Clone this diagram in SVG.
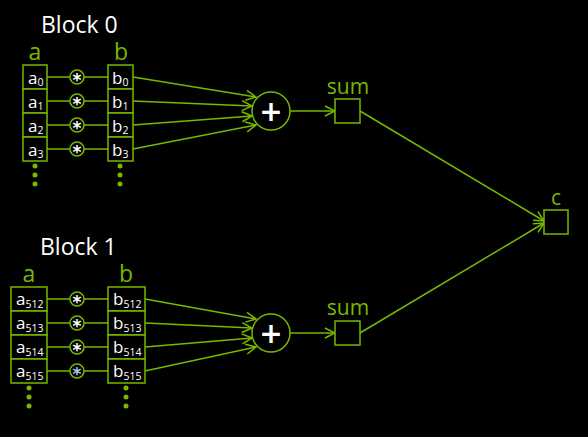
<svg xmlns="http://www.w3.org/2000/svg" width="588" height="437" viewBox="0 0 588 437">
<defs>
<style>
.bg{fill:#000}
.box{fill:#000;stroke:#76b900;stroke-width:1.5}
.ln{stroke:#76b900;stroke-width:1.5;fill:none}
.arr{stroke:#76b900;stroke-width:1.5;fill:none;marker-end:url(#ah)}
.title{font-family:"Open Sans",sans-serif;font-size:23px;fill:#fff}
.lbl{font-family:"Open Sans",sans-serif;font-size:23px;fill:#76b900;text-anchor:middle}
.sum{font-family:"Open Sans",sans-serif;font-size:21px;fill:#76b900;text-anchor:middle}
.cell{font-family:"Open Sans",sans-serif;font-size:17px;fill:#fff}
.sub{font-size:10.5px}
.mul{fill:#000;stroke:#76b900;stroke-width:1.5}
.star{font-family:"DejaVu Sans",sans-serif;font-weight:bold;font-size:17px;fill:#fff;text-anchor:middle}
.plus{font-family:"DejaVu Sans",sans-serif;font-weight:bold;font-size:28px;fill:#fff;text-anchor:middle}
.dot{fill:#76b900}
</style>
<marker id="ah" viewBox="0 0 12 12" refX="11" refY="6" markerWidth="12" markerHeight="12" markerUnits="userSpaceOnUse" orient="auto">
<path d="M1,1 L11,6 L1,11" fill="none" stroke="#76b900" stroke-width="1.5"/>
</marker>
</defs>
<rect class="bg" x="0" y="0" width="588" height="437"/>

<g id="connectors">
<line class="ln" x1="47" y1="77" x2="108" y2="77"/>
<line class="ln" x1="47" y1="101" x2="108" y2="101"/>
<line class="ln" x1="47" y1="125" x2="108" y2="125"/>
<line class="ln" x1="47" y1="149" x2="108" y2="149"/>
<line class="arr" x1="133" y1="77" x2="256" y2="97"/>
<line class="arr" x1="133" y1="101" x2="252" y2="106"/>
<line class="arr" x1="133" y1="125" x2="252" y2="116"/>
<line class="arr" x1="133" y1="149" x2="256" y2="125"/>
<line class="arr" x1="290" y1="111" x2="335" y2="111"/>
<line class="arr" x1="360" y1="111" x2="544" y2="221"/>
<line class="ln" x1="47" y1="299" x2="108" y2="299"/>
<line class="ln" x1="47" y1="323" x2="108" y2="323"/>
<line class="ln" x1="47" y1="347" x2="108" y2="347"/>
<line class="ln" x1="47" y1="371" x2="108" y2="371"/>
<line class="arr" x1="145" y1="299" x2="256" y2="319"/>
<line class="arr" x1="145" y1="323" x2="252" y2="328"/>
<line class="arr" x1="145" y1="347" x2="252" y2="338"/>
<line class="arr" x1="145" y1="371" x2="256" y2="347"/>
<line class="arr" x1="290" y1="333" x2="335" y2="333"/>
<line class="arr" x1="360" y1="333" x2="544" y2="223"/>
</g>

<g id="block0">
<text class="title" x="41" y="33">Block 0</text>
<text class="lbl" x="35" y="60">a</text>
<text class="lbl" x="121" y="60">b</text>
</g>

<g id="a0col">
<rect class="box" x="23" y="65" width="24" height="24"/>
<rect class="box" x="23" y="89" width="24" height="24"/>
<rect class="box" x="23" y="113" width="24" height="24"/>
<rect class="box" x="23" y="137" width="24" height="24"/>
<text class="cell" x="28" y="84">a<tspan class="sub" dy="2">0</tspan></text>
<text class="cell" x="28" y="108">a<tspan class="sub" dy="2">1</tspan></text>
<text class="cell" x="28" y="132">a<tspan class="sub" dy="2">2</tspan></text>
<text class="cell" x="28" y="156">a<tspan class="sub" dy="2">3</tspan></text>
<circle class="dot" cx="35" cy="166" r="2.5"/>
<circle class="dot" cx="35" cy="175" r="2.5"/>
<circle class="dot" cx="35" cy="184" r="2.5"/>
</g>

<g id="b0col">
<rect class="box" x="108" y="65" width="25" height="24"/>
<rect class="box" x="108" y="89" width="25" height="24"/>
<rect class="box" x="108" y="113" width="25" height="24"/>
<rect class="box" x="108" y="137" width="25" height="24"/>
<text class="cell" x="112" y="84">b<tspan class="sub" dy="2">0</tspan></text>
<text class="cell" x="112" y="108">b<tspan class="sub" dy="2">1</tspan></text>
<text class="cell" x="112" y="132">b<tspan class="sub" dy="2">2</tspan></text>
<text class="cell" x="112" y="156">b<tspan class="sub" dy="2">3</tspan></text>
<circle class="dot" cx="120" cy="166" r="2.5"/>
<circle class="dot" cx="120" cy="175" r="2.5"/>
<circle class="dot" cx="120" cy="184" r="2.5"/>
</g>

<g id="mul0">
<circle class="mul" cx="77" cy="77" r="7"/>
<circle class="mul" cx="77" cy="101" r="7"/>
<circle class="mul" cx="77" cy="125" r="7"/>
<circle class="mul" cx="77" cy="149" r="7"/>
<text class="star" x="77" y="86">*</text>
<text class="star" x="77" y="110">*</text>
<text class="star" x="77" y="134">*</text>
<text class="star" x="77" y="158">*</text>
</g>

<g id="plus0">
<circle class="mul" cx="271" cy="111" r="19"/>
<text class="plus" x="271" y="121">+</text>
</g>

<g id="sum0">
<text class="sum" x="348" y="94">sum</text>
<rect class="box" x="335" y="99" width="25" height="24"/>
</g>

<g id="c">
<text class="sum" x="556" y="205">c</text>
<rect class="box" x="544" y="210" width="24" height="24"/>
</g>

<g id="block1">
<text class="title" x="40" y="255">Block 1</text>
<text class="lbl" x="29" y="282">a</text>
<text class="lbl" x="126" y="282">b</text>
</g>

<g id="a1col">
<rect class="box" x="11" y="287" width="36" height="24"/>
<rect class="box" x="11" y="311" width="36" height="24"/>
<rect class="box" x="11" y="335" width="36" height="24"/>
<rect class="box" x="11" y="359" width="36" height="24"/>
<text class="cell" x="16" y="305">a<tspan class="sub" dy="3">512</tspan></text>
<text class="cell" x="16" y="329">a<tspan class="sub" dy="3">513</tspan></text>
<text class="cell" x="16" y="353">a<tspan class="sub" dy="3">514</tspan></text>
<text class="cell" x="16" y="377">a<tspan class="sub" dy="3">515</tspan></text>
<circle class="dot" cx="29" cy="388" r="2.5"/>
<circle class="dot" cx="29" cy="397" r="2.5"/>
<circle class="dot" cx="29" cy="406" r="2.5"/>
</g>

<g id="b1col">
<rect class="box" x="108" y="287" width="37" height="24"/>
<rect class="box" x="108" y="311" width="37" height="24"/>
<rect class="box" x="108" y="335" width="37" height="24"/>
<rect class="box" x="108" y="359" width="37" height="24"/>
<text class="cell" x="113" y="305">b<tspan class="sub" dy="3">512</tspan></text>
<text class="cell" x="113" y="329">b<tspan class="sub" dy="3">513</tspan></text>
<text class="cell" x="113" y="353">b<tspan class="sub" dy="3">514</tspan></text>
<text class="cell" x="113" y="377">b<tspan class="sub" dy="3">515</tspan></text>
<circle class="dot" cx="126" cy="388" r="2.5"/>
<circle class="dot" cx="126" cy="397" r="2.5"/>
<circle class="dot" cx="126" cy="406" r="2.5"/>
</g>

<g id="mul1">
<circle class="mul" cx="77" cy="299" r="7"/>
<circle class="mul" cx="77" cy="323" r="7"/>
<circle class="mul" cx="77" cy="347" r="7"/>
<circle class="mul" cx="77" cy="371" r="7"/>
<text class="star" x="77" y="308">*</text>
<text class="star" x="77" y="332">*</text>
<text class="star" x="77" y="356">*</text>
<text class="star" x="77" y="380" style="fill:#a9c6e6">*</text>
</g>

<g id="plus1">
<circle class="mul" cx="271" cy="333" r="19"/>
<text class="plus" x="271" y="343">+</text>
</g>

<g id="sum1">
<text class="sum" x="348" y="315">sum</text>
<rect class="box" x="335" y="321" width="25" height="24"/>
</g>
</svg>
